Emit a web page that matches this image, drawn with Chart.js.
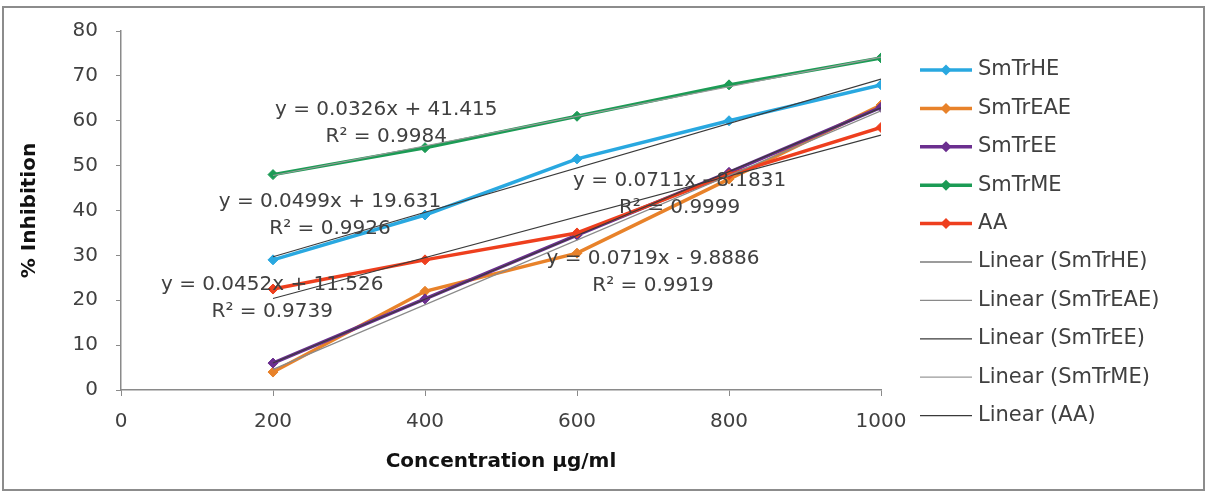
<!DOCTYPE html>
<html>
<head>
<meta charset="utf-8">
<script src="https://cdn.jsdelivr.net/npm/chart.js@4/dist/chart.umd.min.js"></script>
<style>
  html, body { margin: 0; padding: 0; background: #fff; }
  #wrap { width: 1208px; height: 493px; }
</style>
</head>
<body>
<div id="wrap"><canvas id="inhibitionChart" width="1208" height="493"></canvas></div>
<script>
// Concentrations (µg/ml) and % inhibition for each extract
var concentrations = [200, 400, 600, 800, 1000];
var smTrHE  = [29, 39, 51.5, 60, 68];
var smTrEAE = [4, 22, 30.5, 47, 63.5];
var smTrEE  = [6, 20.3, 34.5, 48.5, 63];
var smTrME  = [48, 54, 61, 68, 74];
var aa      = [22.5, 29, 35, 48, 58.5];

var seriesNames = ['SmTrHE', 'SmTrEAE', 'SmTrEE', 'SmTrME', 'AA'];
var seriesValues = [smTrHE, smTrEAE, smTrEE, smTrME, aa];

// Trendline equation labels as printed on the chart
var equationLines = [
    ['y = 0.0499x + 19.631', 'R² = 0.9926'],
    ['y = 0.0719x - 9.8886', 'R² = 0.9919'],
    ['y = 0.0711x - 8.1831', 'R² = 0.9999'],
    ['y = 0.0326x + 41.415', 'R² = 0.9984'],
    ['y = 0.0452x + 11.526', 'R² = 0.9739']
];

// styles
var FONT = 'DejaVu Sans';
var seriesColors = ['#29a8e0', '#e8822a', '#6b2f8f', '#1c9b55', '#ee3f1e'];
var trendColors = ['#3a3a3a', '#8a8a8a', '#3a3a3a', '#9a9a9a', '#3a3a3a'];
// where each equation label sits (in axis units)
var labelSpots = [
    { x: 275, y: 41.9 },
    { x: 700, y: 29.2 },
    { x: 735, y: 46.6 },
    { x: 349, y: 62.4 },
    { x: 199, y: 23.4 }
];

// least squares fit, same as the spreadsheet's linear trendline
function linearFit(xs, ys) {
    var n = xs.length, sx = 0, sy = 0, sxy = 0, sxx = 0;
    for (var i = 0; i < n; i++) {
        sx += xs[i]; sy += ys[i];
        sxy += xs[i] * ys[i]; sxx += xs[i] * xs[i];
    }
    var slope = (n * sxy - sx * sy) / (n * sxx - sx * sx);
    return { slope: slope, intercept: (sy - slope * sx) / n };
}

var datasets = [];
seriesNames.forEach(function (name, i) {
    datasets.push({
        label: name,
        data: concentrations.map(function (c, j) { return { x: c, y: seriesValues[i][j] }; }),
        borderColor: seriesColors[i],
        backgroundColor: seriesColors[i],
        borderWidth: 3.5,
        pointStyle: 'rectRot',
        pointRadius: 5,
        pointBorderWidth: 1,
        tension: 0,
        order: 10 - i
    });
});
seriesNames.forEach(function (name, i) {
    var fit = linearFit(concentrations, seriesValues[i]);
    var x0 = concentrations[0], x1 = concentrations[concentrations.length - 1];
    datasets.push({
        label: 'Linear (' + name + ')',
        data: [{ x: x0, y: fit.slope * x0 + fit.intercept }, { x: x1, y: fit.slope * x1 + fit.intercept }],
        borderColor: trendColors[i],
        backgroundColor: trendColors[i],
        borderWidth: 1.2,
        pointRadius: 0,
        order: 0
    });
});

// frame around the whole picture
var framePlugin = {
    id: 'frame',
    beforeDraw: function (chart) {
        var c = chart.ctx;
        c.save();
        c.fillStyle = '#fff';
        c.fillRect(0, 0, chart.width, chart.height);
        c.restore();
    },
    afterDraw: function (chart) {
        var c = chart.ctx;
        c.save();
        c.strokeStyle = '#8c8c8c';
        c.lineWidth = 2;
        c.strokeRect(3, 7, 1201, 483);
        c.restore();
    }
};

// equation + R² text next to the trendlines
var equationPlugin = {
    id: 'equations',
    afterDatasetsDraw: function (chart) {
        var c = chart.ctx, xs = chart.scales.x, ys = chart.scales.y;
        c.save();
        c.font = '20px "' + FONT + '"';
        c.fillStyle = '#404040';
        c.textAlign = 'center';
        c.textBaseline = 'middle';
        equationLines.forEach(function (lines, i) {
            var px = xs.getPixelForValue(labelSpots[i].x);
            var py = ys.getPixelForValue(labelSpots[i].y);
            c.fillText(lines[0], px, py);
            c.fillText(lines[1], px, py + 27);
        });
        c.restore();
    }
};

// legend on the right, drawn by hand so the markers look like the original
var legendPlugin = {
    id: 'sideLegend',
    afterDraw: function (chart) {
        var c = chart.ctx;
        var lx = 920, top = 70, step = 38.4;
        c.save();
        c.font = '21px "' + FONT + '"';
        c.textBaseline = 'middle';
        c.textAlign = 'left';
        chart.data.datasets.forEach(function (ds, i) {
            var y = top + i * step;
            c.strokeStyle = ds.borderColor;
            c.lineWidth = ds.borderWidth;
            c.beginPath();
            c.moveTo(lx, y);
            c.lineTo(lx + 52, y);
            c.stroke();
            if (ds.pointRadius > 0) {
                c.fillStyle = ds.borderColor;
                c.beginPath();
                c.moveTo(lx + 26, y - 5.5);
                c.lineTo(lx + 31.5, y);
                c.lineTo(lx + 26, y + 5.5);
                c.lineTo(lx + 20.5, y);
                c.closePath();
                c.fill();
            }
            c.fillStyle = '#404040';
            c.fillText(ds.label, lx + 58, y);
        });
        c.restore();
    }
};

var ctx = document.getElementById('inhibitionChart').getContext('2d');
var inhibitionChart = new Chart(ctx, {
    type: 'line',
    data: { datasets: datasets },
    options: {
        responsive: false,
        animation: false,
        layout: { padding: { top: 31, right: 327, left: 0, bottom: 0 } },
        scales: {
            x: {
                type: 'linear',
                min: 0,
                max: 1000,
                ticks: {
                    stepSize: 200,
                    color: '#404040',
                    padding: 14,
                    font: { family: FONT, size: 20 },
                    callback: function (v) { return String(v); }
                },
                grid: { drawOnChartArea: false, tickLength: 6, color: '#8a8a8a' },
                border: { color: '#8a8a8a', width: 1.5 },
                title: {
                    display: true,
                    text: 'Concentration µg/ml',
                    color: '#111',
                    padding: { top: 19, bottom: 19 },
                    font: { family: FONT, size: 20, weight: 'bold' }
                },
                afterFit: function (scale) { scale.height = 103; }
            },
            y: {
                min: 0,
                max: 80,
                ticks: { stepSize: 10, color: '#404040', padding: 18, font: { family: FONT, size: 20 } },
                grid: { drawOnChartArea: false, tickLength: 5, color: '#8a8a8a' },
                border: { color: '#8a8a8a', width: 1.5 },
                title: {
                    display: true,
                    text: '% Inhibition',
                    color: '#111',
                    padding: { top: 18, bottom: 0 },
                    font: { family: FONT, size: 20, weight: 'bold' }
                },
                afterFit: function (scale) { scale.width = 121; }
            }
        },
        plugins: {
            legend: { display: false },
            tooltip: { enabled: false }
        }
    },
    plugins: [framePlugin, equationPlugin, legendPlugin]
});
</script>
</body>
</html>
